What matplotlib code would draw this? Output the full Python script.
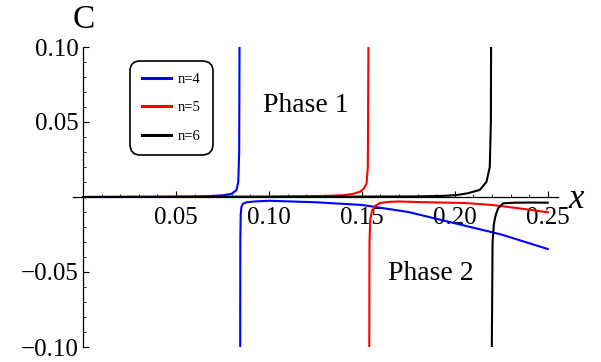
import matplotlib
matplotlib.use("Agg")
import matplotlib.pyplot as plt
from matplotlib.ticker import MultipleLocator, FixedLocator

plt.rcParams['font.family'] = ['Liberation Serif', 'DejaVu Serif']
plt.rcParams['axes.unicode_minus'] = True

# values, split at each pole
x4_left = [0.0, 0.02, 0.04, 0.06, 0.07, 0.076, 0.080, 0.0825, 0.0835, 0.0840, 0.0843]
c4_left = [0.0, 0.0001, 0.0002, 0.0004, 0.0007, 0.0012, 0.0022, 0.0045, 0.010, 0.030, 0.150]
x4_right = [0.0845, 0.0846, 0.0848, 0.0852, 0.086, 0.088, 0.092, 0.10, 0.125, 0.15, 0.175, 0.20, 0.225, 0.25]
c4_right = [-0.150, -0.030, -0.012, -0.0065, -0.0045, -0.0035, -0.003, -0.0025, -0.0035, -0.0053, -0.010,
            -0.0175, -0.025, -0.0347]

x5_left = [0.0, 0.05, 0.10, 0.13, 0.14, 0.145, 0.149, 0.151, 0.1525, 0.1532, 0.1537]
c5_left = [0.0, 0.0001, 0.0003, 0.0007, 0.0012, 0.0020, 0.0035, 0.0055, 0.009, 0.020, 0.150]
x5_right = [0.1539, 0.1541, 0.1545, 0.1555, 0.157, 0.1597, 0.165, 0.17, 0.185, 0.205, 0.22, 0.2385, 0.25]
c5_right = [-0.150, -0.030, -0.015, -0.009, -0.006, -0.004, -0.0032, -0.003, -0.0035, -0.004, -0.0053,
            -0.0082, -0.0102]

x6_left = [0.0, 0.10, 0.18, 0.195, 0.201, 0.207, 0.2134, 0.217, 0.2188, 0.2194, 0.2196]
c6_left = [0.0, 0.0001, 0.0004, 0.0008, 0.0013, 0.0025, 0.0047, 0.010, 0.020, 0.050, 0.150]
x6_right = [0.2198, 0.2199, 0.2203, 0.221, 0.222, 0.2233, 0.226, 0.232, 0.24, 0.25]
c6_right = [-0.150, -0.100, -0.030, -0.018, -0.012, -0.0075, -0.0042, -0.0038, -0.0037, -0.0038]

series = [
    ('n=4', 'blue', x4_left, c4_left, x4_right, c4_right),
    ('n=5', 'red', x5_left, c5_left, x5_right, c5_right),
    ('n=6', 'black', x6_left, c6_left, x6_right, c6_right),
]

x_ticks = [0.05, 0.10, 0.15, 0.20, 0.25]
y_ticks = [-0.10, -0.05, 0.05, 0.10]

fig = plt.figure(figsize=(6.01, 3.62), dpi=100)
ax = fig.add_axes([73 / 601, 15 / 362, 485 / 601, 300 / 362])

for label, color, xl, yl, xr, yr in series:
    ax.plot(xl, yl, color=color, lw=1.5, label=label)
    ax.plot(xr, yr, color=color, lw=1.5)

ax.set_xlim(-0.0054, 0.2555)
ax.set_ylim(-0.1, 0.1)

# Mathematica-style axes through the origin
ax.spines['top'].set_visible(False)
ax.spines['right'].set_visible(False)
ax.spines['left'].set_position(('data', 0))
ax.spines['bottom'].set_position(('data', 0))
ax.spines['left'].set_linewidth(0.9)
ax.spines['bottom'].set_linewidth(0.9)

ax.xaxis.set_major_locator(FixedLocator(x_ticks))
ax.yaxis.set_major_locator(FixedLocator(y_ticks))
ax.xaxis.set_minor_locator(MultipleLocator(0.01))
ax.yaxis.set_minor_locator(MultipleLocator(0.01))
ax.set_xticklabels(['%.2f' % v for v in x_ticks])
ax.set_yticklabels([('%.2f' % v).replace('-', '\u2212') for v in y_ticks])
ax.tick_params(which='major', direction='in', length=4, width=0.8, labelsize=18)
ax.tick_params(which='minor', direction='in', length=2.2, width=0.6)
ax.tick_params(axis='x', pad=7.5)
ax.tick_params(axis='y', pad=3)

ax.text(0.0005, 0.1127, 'C', fontsize=24, ha='center', va='baseline', clip_on=False)
ax.text(0.265, -0.0017, 'x', fontsize=25, style='italic', ha='center', va='center', clip_on=False)
ax.text(0.0968, 0.0567, 'Phase 1', fontsize=20, ha='left', va='baseline')
ax.text(0.164, -0.0553, 'Phase 2', fontsize=20, ha='left', va='baseline')

leg = ax.legend(loc='upper left', bbox_to_anchor=(130 / 601, 1 - 61 / 362), bbox_transform=fig.transFigure,
                fontsize=10.5, handlelength=2.0, handletextpad=0.5, labelspacing=1.05, borderpad=0.8,
                borderaxespad=0, fancybox=True, framealpha=1, edgecolor='black')
leg.get_frame().set_linewidth(1.2)
leg.get_frame().set_boxstyle('round,pad=0,rounding_size=0.7')
for line in leg.get_lines():
    line.set_linewidth(2.2)

fig.savefig('out.png', dpi=100)
